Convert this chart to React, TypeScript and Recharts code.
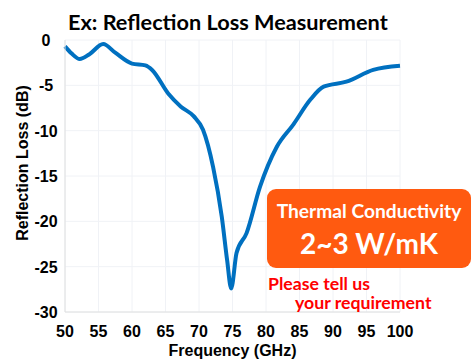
import React from "react";
import { LineChart, Line, XAxis, YAxis, CartesianGrid } from "recharts";

const frequencyGHz = [50, 51, 52.2, 53.6, 55.7, 57.5, 60, 62, 63, 65.4, 67.3, 69.2, 70.6, 72.1, 73.4, 74.2, 74.8, 75.6, 77.1, 79.1, 81.6, 84.1, 86.6, 88.6, 92, 96, 100];
const reflectionLossDb = [-0.7, -1.5, -2.1, -1.6, -0.45, -1.4, -2.6, -2.8, -3.3, -5.9, -7.35, -8.4, -9.9, -14.0, -19.5, -24.3, -27.4, -23.5, -21.3, -16.2, -11.8, -9.3, -6.6, -5.15, -4.6, -3.3, -2.85];
const xTicks = [50, 55, 60, 65, 70, 75, 80, 85, 90, 95, 100];
const yTicks = [0, -5, -10, -15, -20, -25, -30];

const data = frequencyGHz.map((f, i) => ({ f, db: reflectionLossDb[i] }));

const AXIS_FONT = "'Liberation Sans', Arial, sans-serif";
const CAL_FONT = "Lato, 'Open Sans', sans-serif";

const XTick = (props: any) => {
  const { x, y, payload } = props;
  return (
    <text x={x} y={y + 25} textAnchor="middle" fontFamily={AXIS_FONT} fontWeight="bold" fontSize={16} fill="#000">
      {payload.value}
    </text>
  );
};

const YTick = (props: any) => {
  const { x, y, payload } = props;
  return (
    <text x={x - 19} y={y + 6} textAnchor="middle" fontFamily={AXIS_FONT} fontWeight="bold" fontSize={16} fill="#000">
      {payload.value}
    </text>
  );
};

export default function App() {
  return (
    <div style={{ position: "absolute", left: 0, top: 0, width: 474, height: 363, background: "#fff", overflow: "hidden" }}>
      <LineChart width={474} height={363} data={data} margin={{ top: 40, right: 74, bottom: 21, left: 35 }}>
        <CartesianGrid stroke="#F0F2F6" strokeWidth={1} />
        <XAxis
          dataKey="f"
          type="number"
          domain={[50, 100]}
          ticks={xTicks}
          height={30}
          tickSize={0}
          tickMargin={0}
          tickLine={false}
          axisLine={{ stroke: "#E0E0E0" }}
          tick={<XTick />}
          label={{
            content: (p: any) => (
              <text x={p.viewBox.x + p.viewBox.width / 2} y={p.viewBox.y + 44} textAnchor="middle" fontFamily={AXIS_FONT} fontWeight="bold" fontSize={16} fill="#000">
                Frequency (GHz)
              </text>
            ),
          }}
        />
        <YAxis
          type="number"
          domain={[-30, 0]}
          ticks={yTicks}
          width={30}
          tickSize={0}
          tickMargin={0}
          tickLine={false}
          axisLine={{ stroke: "#E0E0E0" }}
          tick={<YTick />}
          label={{
            content: (p: any) => {
              const cx = p.viewBox.x - 13;
              const cy = p.viewBox.y + p.viewBox.height / 2 - 13;
              return (
                <text x={cx} y={cy} transform={`rotate(-90 ${cx} ${cy})`} textAnchor="middle" dominantBaseline="central" fontFamily={AXIS_FONT} fontWeight="bold" fontSize={16} fill="#000">
                  Reflection Loss (dB)
                </text>
              );
            },
          }}
        />
        <Line type="monotone" dataKey="db" stroke="#0070C0" strokeWidth={4} dot={false} isAnimationActive={false} />
      </LineChart>
      <div style={{ position: "absolute", left: 68, top: 7, fontFamily: CAL_FONT, fontWeight: 700, fontSize: 21.7, color: "#000", whiteSpace: "nowrap", lineHeight: "30px" }}>
        Ex: Reflection Loss Measurement
      </div>
      <div style={{ position: "absolute", left: 267, top: 189, width: 204, height: 79, background: "#FF5A10", borderRadius: 9, color: "#fff", fontFamily: CAL_FONT, fontWeight: 700, textAlign: "center" }}>
        <div style={{ fontSize: 19.2, lineHeight: "20px", marginTop: 12, whiteSpace: "nowrap" }}>Thermal Conductivity</div>
        <div style={{ fontSize: 28, lineHeight: "32px", marginTop: 6, whiteSpace: "nowrap" }}>2~3 W/mK</div>
      </div>
      <div style={{ position: "absolute", left: 268, top: 274, fontFamily: CAL_FONT, fontWeight: 700, fontSize: 17.7, color: "#FF0000", lineHeight: "20px", whiteSpace: "nowrap" }}>
        Please tell us
      </div>
      <div style={{ position: "absolute", left: 295, top: 293, fontFamily: CAL_FONT, fontWeight: 700, fontSize: 17.7, color: "#FF0000", lineHeight: "20px", whiteSpace: "nowrap" }}>
        your requirement
      </div>
    </div>
  );
}
